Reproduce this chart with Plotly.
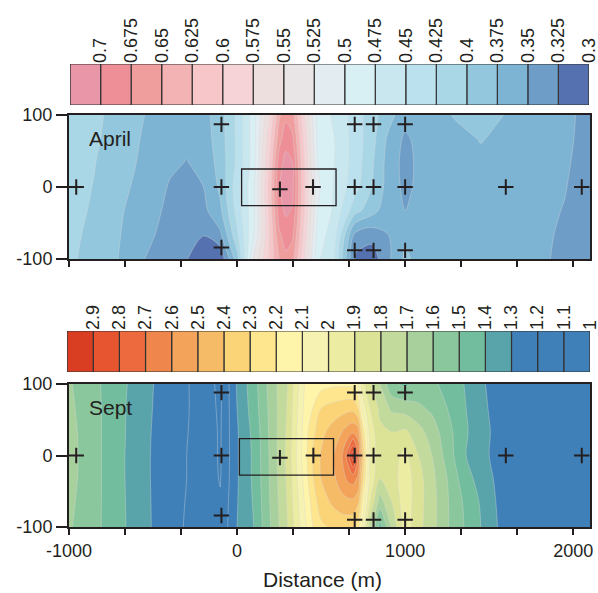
import numpy as np
import plotly.graph_objects as go

# ---------------- data ----------------
GRID_Y = [100, 66, 33, 0, -33, -66, -100]  # rows top -> bottom

APR_X = [-1000, -850, -700, -550, -400, -300, -200, -100, 0, 100, 200, 250, 290, 330,
         380, 480, 580, 700, 800, 900, 1000, 1100, 1300, 1450, 1600, 1800, 1950, 2100]
APR_Z_COLS = [
    [0.415, 0.414, 0.412, 0.410, 0.408, 0.405, 0.403],
    [0.406, 0.404, 0.401, 0.399, 0.397, 0.395, 0.394],
    [0.390, 0.388, 0.385, 0.382, 0.378, 0.376, 0.374],
    [0.375, 0.372, 0.370, 0.366, 0.362, 0.357, 0.350],
    [0.362, 0.360, 0.354, 0.348, 0.344, 0.340, 0.338],
    [0.358, 0.355, 0.349, 0.343, 0.337, 0.332, 0.326],
    [0.365, 0.362, 0.356, 0.350, 0.343, 0.326, 0.310],
    [0.390, 0.388, 0.385, 0.380, 0.370, 0.345, 0.305],
    [0.430, 0.430, 0.430, 0.440, 0.435, 0.420, 0.390],
    [0.490, 0.490, 0.490, 0.495, 0.495, 0.500, 0.530],
    [0.580, 0.600, 0.610, 0.620, 0.615, 0.610, 0.610],
    [0.645, 0.665, 0.690, 0.698, 0.690, 0.670, 0.650],
    [0.668, 0.692, 0.708, 0.712, 0.704, 0.688, 0.668],
    [0.660, 0.680, 0.700, 0.705, 0.698, 0.680, 0.660],
    [0.600, 0.615, 0.625, 0.630, 0.625, 0.615, 0.600],
    [0.490, 0.495, 0.500, 0.505, 0.500, 0.490, 0.480],
    [0.470, 0.475, 0.475, 0.472, 0.470, 0.460, 0.450],
    [0.440, 0.440, 0.440, 0.435, 0.410, 0.345, 0.320],
    [0.410, 0.410, 0.405, 0.400, 0.385, 0.335, 0.310],
    [0.385, 0.370, 0.365, 0.365, 0.360, 0.350, 0.345],
    [0.360, 0.345, 0.342, 0.344, 0.350, 0.370, 0.380],
    [0.362, 0.360, 0.358, 0.358, 0.360, 0.362, 0.365],
    [0.377, 0.368, 0.365, 0.362, 0.362, 0.362, 0.363],
    [0.385, 0.376, 0.370, 0.365, 0.363, 0.362, 0.362],
    [0.374, 0.370, 0.366, 0.363, 0.362, 0.361, 0.360],
    [0.362, 0.360, 0.358, 0.357, 0.355, 0.354, 0.353],
    [0.356, 0.355, 0.353, 0.351, 0.349, 0.347, 0.346],
    [0.342, 0.341, 0.340, 0.339, 0.338, 0.337, 0.336],
]

SEP_X = [-1000, -900, -800, -700, -600, -500, -400, -300, -200, -100, 0, 100, 200, 300,
         400, 450, 500, 575, 625, 660, 690, 720, 750, 790, 850, 920, 1000, 1080, 1160,
         1250, 1350, 1450, 1550, 1700, 1900, 2100]
SEP_Z_COLS = [
    [1.61, 1.62, 1.63, 1.635, 1.63, 1.62, 1.61],
    [1.56, 1.565, 1.57, 1.57, 1.57, 1.565, 1.56],
    [1.492, 1.495, 1.495, 1.495, 1.495, 1.495, 1.495],
    [1.43, 1.425, 1.425, 1.422, 1.422, 1.425, 1.425],
    [1.366, 1.36, 1.357, 1.354, 1.355, 1.357, 1.36],
    [1.302, 1.298, 1.293, 1.29, 1.29, 1.292, 1.293],
    [1.25, 1.245, 1.24, 1.24, 1.24, 1.24, 1.24],
    [1.21, 1.21, 1.205, 1.2, 1.2, 1.195, 1.19],
    [1.14, 1.145, 1.15, 1.15, 1.145, 1.14, 1.13],
    [1.08, 1.085, 1.09, 1.09, 1.095, 1.11, 1.12],
    [1.31, 1.30, 1.29, 1.29, 1.29, 1.295, 1.30],
    [1.46, 1.45, 1.43, 1.42, 1.42, 1.41, 1.40],
    [1.64, 1.63, 1.625, 1.62, 1.615, 1.61, 1.60],
    [1.80, 1.81, 1.82, 1.83, 1.82, 1.81, 1.80],
    [2.10, 2.12, 2.14, 2.15, 2.13, 2.10, 2.07],
    [2.14, 2.20, 2.27, 2.31, 2.29, 2.24, 2.20],
    [2.16, 2.30, 2.37, 2.41, 2.40, 2.35, 2.28],
    [2.18, 2.34, 2.45, 2.50, 2.48, 2.42, 2.32],
    [2.18, 2.36, 2.50, 2.60, 2.56, 2.46, 2.33],
    [2.18, 2.37, 2.55, 2.75, 2.62, 2.47, 2.33],
    [2.17, 2.37, 2.58, 2.97, 2.64, 2.47, 2.32],
    [2.10, 2.30, 2.55, 2.70, 2.58, 2.42, 2.25],
    [1.92, 2.05, 2.25, 2.35, 2.30, 2.15, 2.05],
    [1.82, 1.90, 1.97, 2.00, 1.98, 1.90, 1.75],
    [1.70, 1.78, 1.82, 1.83, 1.80, 1.65, 1.45],
    [1.52, 1.68, 1.80, 1.85, 1.85, 1.80, 1.72],
    [1.48, 1.66, 1.82, 1.93, 1.96, 1.96, 1.96],
    [1.53, 1.62, 1.74, 1.80, 1.84, 1.84, 1.83],
    [1.52, 1.58, 1.65, 1.70, 1.73, 1.74, 1.74],
    [1.47, 1.50, 1.54, 1.56, 1.60, 1.61, 1.61],
    [1.40, 1.41, 1.42, 1.41, 1.45, 1.49, 1.50],
    [1.32, 1.33, 1.34, 1.33, 1.36, 1.39, 1.40],
    [1.25, 1.26, 1.27, 1.27, 1.28, 1.29, 1.30],
    [1.24, 1.24, 1.24, 1.24, 1.24, 1.24, 1.24],
    [1.22, 1.22, 1.22, 1.22, 1.22, 1.22, 1.22],
    [1.21, 1.21, 1.21, 1.21, 1.21, 1.21, 1.21],
]

# sampling stations
APR_PTS_X = [-957, -93, -93, -93, 255, 452, 700, 700, 700, 812, 812, 812, 1000, 1000, 1000, 1599, 2051]
APR_PTS_Y = [0, 87, 0, -84, -3, 0, 87, 0, -88, 87, 0, -88, 87, 0, -88, 0, 0]
SEP_PTS_X = [-957, -93, -93, -93, 255, 454, 700, 700, 700, 812, 812, 812, 1000, 1000, 1000, 1599, 2051]
SEP_PTS_Y = [0, 88, 0, -84, -3, 0, 88, 0, -90, 88, 0, -90, 88, 0, -90, 0, 0]

# boxes: x0, x1, y0, y1
APR_BOX = [27, 589, -26, 25]
SEP_BOX = [14, 574, -27.5, 23.7]

# colour levels (band lower bounds = colorbar tick labels)
APR_LEVELS = [0.3, 0.325, 0.35, 0.375, 0.4, 0.425, 0.45, 0.475, 0.5, 0.525, 0.55,
              0.575, 0.6, 0.625, 0.65, 0.675, 0.7]
APR_LABELS = ["0.3", "0.325", "0.35", "0.375", "0.4", "0.425", "0.45", "0.475", "0.5",
              "0.525", "0.55", "0.575", "0.6", "0.625", "0.65", "0.675", "0.7"]
APR_COLORS = ["#5571AF", "#6E9EC7", "#7DB3D3", "#93C7DD", "#AAD7E6", "#BBE1EE", "#C8E7EF",
              "#D8F0F4", "#E3ECF1", "#E9E5E7", "#EEDFDF", "#F5D3D6", "#F6C6C8", "#F3B2B3",
              "#F09D9E", "#EE8F98", "#E996A8"]
APR_STEP = 0.025

SEP_LEVELS = [1.0, 1.1, 1.2, 1.3, 1.4, 1.5, 1.6, 1.7, 1.8, 1.9, 2.0, 2.1, 2.2, 2.3, 2.4,
              2.5, 2.6, 2.7, 2.8, 2.9]
SEP_LABELS = ["1", "1.1", "1.2", "1.3", "1.4", "1.5", "1.6", "1.7", "1.8", "1.9", "2",
              "2.1", "2.2", "2.3", "2.4", "2.5", "2.6", "2.7", "2.8", "2.9"]
SEP_COLORS = ["#3F80B9", "#3F80B9", "#3F80B9", "#58A4AA", "#72BD9D", "#8BC79D", "#A7D09C",
              "#C2DA9B", "#DDE396", "#ECEDA2", "#F6F2B2", "#FEF5AA", "#FDE68E", "#FBD477",
              "#F6BB67", "#F3A35A", "#EF874C", "#EC6A3E", "#E75530", "#DA3E22"]
SEP_STEP = 0.1

X_TICKS = [-1000, -666.667, -333.333, 0, 333.333, 666.667, 1000, 1333.333, 1666.667, 2000]
X_TICKTEXT = ["-1000", "", "", "0", "", "", "1000", "", "", "2000"]
Y_TICKS = [-100, 0, 100]
Y_TICKTEXT = ["-100", "0", "100"]

# ---------------- figure ----------------
W, H = 598, 593
FONT = "Liberation Sans, Arial, Helvetica, sans-serif"
INK = "#231f20"


def dom_x(a, b):
    return [a / W, b / W]


def dom_y(top, bottom):
    return [1 - bottom / H, 1 - top / H]


def colorscale(colors):
    n = len(colors) - 1
    return [[i / n, c] for i, c in enumerate(colors)]


def grid(cols):
    z = np.array(cols).T  # rows top->bottom
    return z[::-1], GRID_Y[::-1]


fig = go.Figure()

for (xs, cols, levels, colors, step, xa, ya) in [
    (APR_X, APR_Z_COLS, APR_LEVELS, APR_COLORS, APR_STEP, "x", "y"),
    (SEP_X, SEP_Z_COLS, SEP_LEVELS, SEP_COLORS, SEP_STEP, "x2", "y2"),
]:
    z, ys = grid(cols)
    fig.add_trace(go.Contour(
        x=xs, y=ys, z=z, xaxis=xa, yaxis=ya,
        autocontour=False,
        contours=dict(start=levels[1], end=levels[-1], size=step, coloring="fill"),
        colorscale=colorscale(colors),
        line=dict(color="rgba(215,215,215,0.55)", width=0.7, smoothing=0.9),
        showscale=False, hoverinfo="skip",
    ))

for (px, py, xa, ya) in [(APR_PTS_X, APR_PTS_Y, "x", "y"), (SEP_PTS_X, SEP_PTS_Y, "x2", "y2")]:
    fig.add_trace(go.Scatter(
        x=px, y=py, xaxis=xa, yaxis=ya, mode="markers",
        marker=dict(symbol="cross-thin", size=11, line=dict(width=2, color=INK), color=INK),
        hoverinfo="skip", showlegend=False,
    ))

# colorbars drawn as bars
for (levels, colors, step, xa, ya) in [
    (APR_LEVELS, APR_COLORS, APR_STEP, "x3", "y3"),
    (SEP_LEVELS, SEP_COLORS, SEP_STEP, "x4", "y4"),
]:
    fig.add_trace(go.Bar(
        x=[v + step / 2 for v in levels], y=[1] * len(levels), width=step,
        xaxis=xa, yaxis=ya,
        marker=dict(color=colors, line=dict(color="#333333", width=1.2)),
        cliponaxis=False, hoverinfo="skip", showlegend=False,
    ))

axis_common = dict(showline=True, linewidth=2, linecolor=INK, mirror=True,
                   ticks="outside", tickwidth=2, tickcolor=INK, showgrid=False,
                   zeroline=False, automargin=False, ticklabeloverflow="allow",
                   tickfont=dict(family=FONT, size=18, color=INK))
cbar_common = dict(side="top", tickmode="array", tickangle=-90, ticks="", showline=False,
                   showgrid=False, zeroline=False, automargin=False,
                   ticklabeloverflow="allow",
                   tickfont=dict(family=FONT, size=18, color=INK))

EPS_A = APR_STEP * 0.004
EPS_S = SEP_STEP * 0.004

fig.update_layout(
    width=W, height=H,
    margin=dict(l=0, r=0, t=0, b=0, autoexpand=False),
    paper_bgcolor="white", plot_bgcolor="white",
    showlegend=False, bargap=0, hovermode=False,
    font=dict(family=FONT, color=INK),
    xaxis=dict(domain=dom_x(69, 590), anchor="y", range=[-1000, 2100],
               tickmode="array", tickvals=X_TICKS, ticktext=[""] * len(X_TICKS),
               ticklen=6, **axis_common),
    yaxis=dict(domain=dom_y(115, 259), anchor="x", range=[-100, 100],
               tickmode="array", tickvals=Y_TICKS, ticktext=Y_TICKTEXT,
               ticklen=11, **axis_common),
    xaxis2=dict(domain=dom_x(69, 590), anchor="y2", range=[-1000, 2100],
                tickmode="array", tickvals=X_TICKS, ticktext=X_TICKTEXT,
                ticklen=6, **axis_common),
    yaxis2=dict(domain=dom_y(384, 527), anchor="x2", range=[-100, 100],
                tickmode="array", tickvals=Y_TICKS, ticktext=Y_TICKTEXT,
                ticklen=11, **axis_common),
    xaxis3=dict(domain=dom_x(70, 589), anchor="y3",
                range=[APR_LEVELS[-1] + APR_STEP + EPS_A, APR_LEVELS[0] - EPS_A],
                tickvals=APR_LEVELS, ticktext=APR_LABELS, **cbar_common),
    yaxis3=dict(domain=dom_y(64, 105), anchor="x3", range=[0, 1], visible=False),
    xaxis4=dict(domain=dom_x(67, 590), anchor="y4",
                range=[SEP_LEVELS[-1] + SEP_STEP + EPS_S, SEP_LEVELS[0] - EPS_S],
                tickvals=SEP_LEVELS, ticktext=SEP_LABELS, **cbar_common),
    yaxis4=dict(domain=dom_y(331, 372), anchor="x4", range=[0, 1], visible=False),
)

for box, xa, ya in [(APR_BOX, "x", "y"), (SEP_BOX, "x2", "y2")]:
    fig.add_shape(type="rect", xref=xa, yref=ya, x0=box[0], x1=box[1], y0=box[2], y1=box[3],
                  line=dict(color=INK, width=1.3))

fig.add_annotation(text="April", xref="x", yref="y", x=-895, y=67, xanchor="left",
                   yanchor="middle", showarrow=False, font=dict(family=FONT, size=21, color=INK))
fig.add_annotation(text="Sept", xref="x2", yref="y2", x=-890, y=67, xanchor="left",
                   yanchor="middle", showarrow=False, font=dict(family=FONT, size=21, color=INK))
fig.add_annotation(text="Distance (m)", xref="paper", yref="paper", x=322.5 / W,
                   y=1 - 579 / H, xanchor="center", yanchor="middle", showarrow=False,
                   font=dict(family=FONT, size=21, color=INK))

# remove the browser's default page margin so the figure fills the window exactly
fig.write_html("out.html", config={"displayModeBar": False, "staticPlot": True},
               post_script="document.body.style.margin='0';document.body.style.overflow='hidden';")
